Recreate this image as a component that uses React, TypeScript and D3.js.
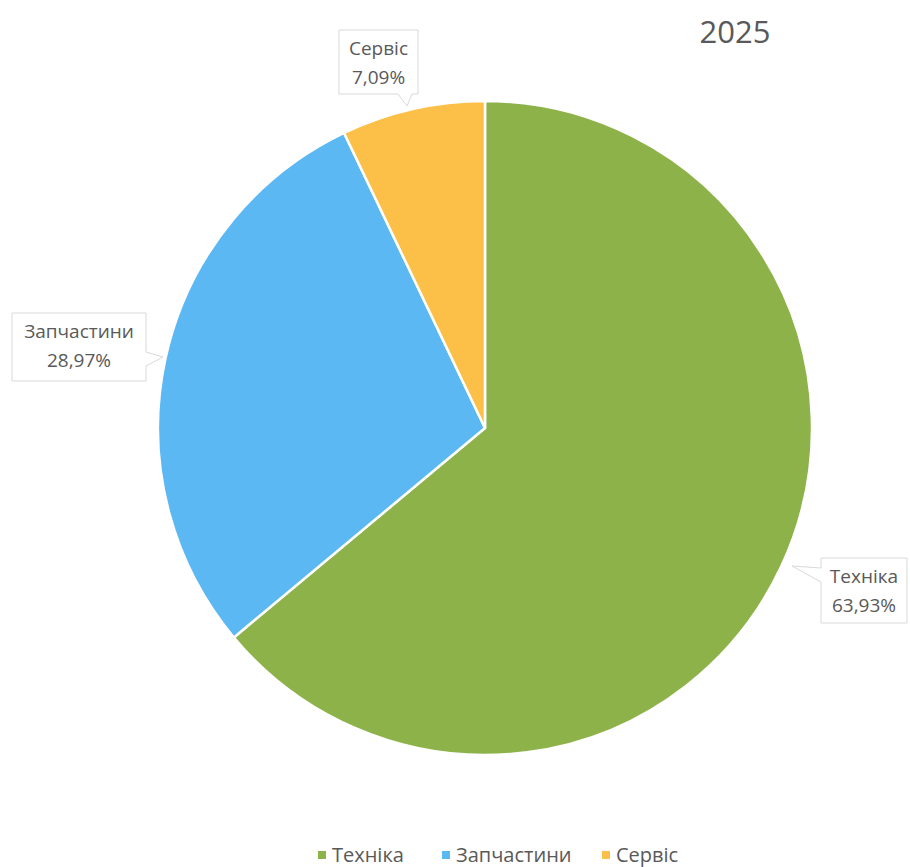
import React from "react";
import * as d3 from "d3";

const categories = ["Техніка", "Запчастини", "Сервіс"];
const values = [63.93, 28.97, 7.09];
const valueLabels = ["63,93%", "28,97%", "7,09%"];
const colors = ["#8DB24A", "#5CB8F2", "#FCC048"];
const title = "2025";

const W = 910;
const H = 867;
const cx = 485;
const cy = 428;
const R = 327;
const FONT = "'Open Sans', Lato, sans-serif";

type Callout = { x0: number; y0: number; x1: number; y1: number; side: "left" | "right" | "bottom"; b0: number; b1: number; tip: [number, number] };

const callouts: Callout[] = [
  { x0: 821, y0: 558, x1: 907, y1: 623, side: "left", b0: 568, b1: 582, tip: [792, 566] },
  { x0: 12, y0: 313, x1: 146, y1: 381, side: "right", b0: 352, b1: 366, tip: [163, 357] },
  { x0: 339, y0: 30, x1: 418, y1: 94, side: "bottom", b0: 398, b1: 412, tip: [407, 106] },
];

function calloutPath(c: Callout): string {
  const { x0, y0, x1, y1, side, b0, b1, tip } = c;
  const p = d3.path();
  p.moveTo(x0, y0);
  p.lineTo(x1, y0);
  if (side === "right") {
    p.lineTo(x1, b0);
    p.lineTo(tip[0], tip[1]);
    p.lineTo(x1, b1);
  }
  p.lineTo(x1, y1);
  if (side === "bottom") {
    p.lineTo(b1, y1);
    p.lineTo(tip[0], tip[1]);
    p.lineTo(b0, y1);
  }
  p.lineTo(x0, y1);
  if (side === "left") {
    p.lineTo(x0, b1);
    p.lineTo(tip[0], tip[1]);
    p.lineTo(x0, b0);
  }
  p.closePath();
  return p.toString();
}

export default function App() {
  const pie = d3.pie<number>().sort(null).value((d) => d);
  const arcs = pie(values);
  const arc = d3.arc<d3.PieArcDatum<number>>().innerRadius(0).outerRadius(R);

  const legendX = [322, 446, 606];

  return (
    <svg width={W} height={H} style={{ position: "absolute", left: 0, top: 0, background: "#fff" }}>
      <rect width={W} height={H} fill="#fff" />
      <text x={735} y={43} textAnchor="middle" fontFamily={FONT} fontSize={31} fill="#595959">
        {title}
      </text>
      <g transform={`translate(${cx},${cy})`}>
        {arcs.map((a, i) => (
          <path key={i} d={arc(a) || ""} fill={colors[i]} stroke="#ffffff" strokeWidth={2.5} strokeLinejoin="round" />
        ))}
      </g>
      {callouts.map((c, i) => {
        const tx = (c.x0 + c.x1) / 2;
        return (
          <g key={i}>
            <path d={calloutPath(c)} fill="#ffffff" stroke="#d9d9d9" strokeWidth={1} />
            <text x={tx} y={c.y0 + 25} textAnchor="middle" fontFamily={FONT} fontSize={19} fill="#595959">
              {categories[i]}
            </text>
            <text x={tx} y={c.y0 + 54} textAnchor="middle" fontFamily={FONT} fontSize={19} fill="#595959">
              {valueLabels[i]}
            </text>
          </g>
        );
      })}
      {categories.map((c, i) => (
        <g key={c}>
          <rect x={legendX[i] - 4} y={851} width={8} height={8} fill={colors[i]} />
          <text x={legendX[i] + 10} y={862} fontFamily={FONT} fontSize={20} fill="#595959">
            {c}
          </text>
        </g>
      ))}
    </svg>
  );
}
